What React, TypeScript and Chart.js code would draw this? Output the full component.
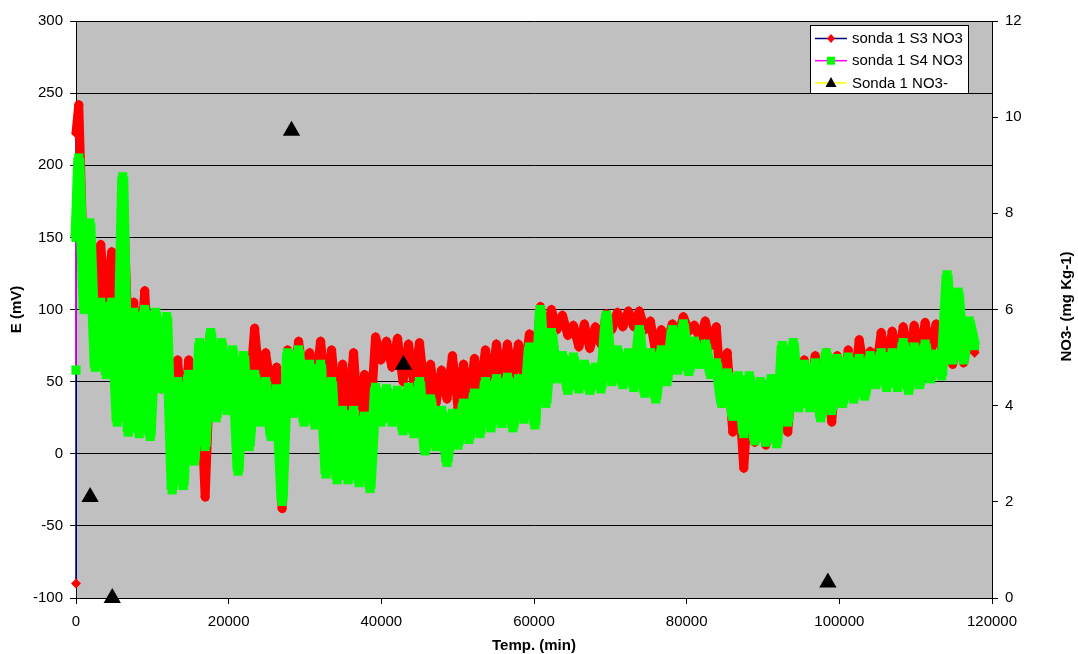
import { useEffect, useRef } from 'react';
import { Chart, registerables } from 'chart.js';

Chart.register(...registerables);

// ---------------- data ----------------
const S3_LABEL = 'sonda 1 S3 NO3';
const S4_LABEL = 'sonda 1 S4 NO3';
const NO3_LABEL = 'Sonda 1 NO3-';

const MINUTES_PER_DAY = 1440;

// readings at t = 0 before the daily cycles start
const s3StartValues = [-90, 222];
const s4StartValues = [58, 150];

// daily maximum / minimum of E (mV), one entry per day (day 0 .. 81)
const s3DailyMax = [
  242, 150, 145, 140, 186, 105, 113, 95, 90, 65,
  65, 60, 72, 72, 70, 65, 87, 70, 60, 72,
  78, 70, 78, 72, 62, 70, 55, 81, 78, 80,
  76, 77, 62, 58, 68, 62, 66, 72, 76, 76,
  76, 83, 102, 100, 96, 89, 90, 88, 97, 98,
  99, 99, 92, 86, 90, 95, 89, 92, 88, 70,
  50, 50, 50, 48, 50, 60, 65, 68, 70, 68,
  72, 79, 71, 84, 85, 88, 89, 91, 90, 85,
  90, 88,
];
const s3DailyMin = [
  110, 100, 95, 70, 80, 50, 45, 45, 20, 15,
  10, -30, 40, 40, 42, 40, 45, 45, -38, 45,
  50, 45, 40, 30, 25, 15, 20, 65, 60, 50,
  48, 40, 35, 38, 32, 36, 42, 46, 50, 52,
  54, 60, 80, 86, 82, 74, 73, 76, 86, 88,
  88, 86, 70, 76, 80, 85, 80, 75, 35, 15,
  -10, 8, 6, 8, 15, 34, 35, 30, 22, 35,
  40, 55, 55, 60, 62, 65, 68, 70, 72, 62,
  63, 70,
];
const s4DailyMax = [
  205, 160, 105, 105, 192, 98, 100, 98, 95, 50,
  55, 77, 84, 77, 72, 68, 55, 50, 45, 70,
  72, 62, 62, 50, 30, 30, 26, 46, 45, 44,
  46, 50, 38, 30, 28, 35, 42, 50, 52, 53,
  52, 74, 100, 84, 68, 67, 62, 60, 96, 72,
  70, 86, 70, 72, 86, 90, 78, 76, 63, 56,
  54, 54, 50, 52, 75, 77, 62, 63, 70, 66,
  67, 66, 68, 70, 70, 77, 74, 76, 69, 124,
  112, 92,
];
const s4DailyMin = [
  100, 60, 55, 22, 15, 14, 12, 45, -25, -22,
  -5, 5, 25, 30, -12, 5, 22, 12, -33, 28,
  22, 20, -14, -18, -18, -20, -24, 22, 22, 16,
  14, 2, 5, -6, 6, 10, 14, 18, 21, 18,
  24, 20, 35, 52, 44, 45, 44, 45, 50, 48,
  46, 42, 38, 50, 58, 57, 62, 55, 35, 26,
  14, 9, 8, 7, 22, 32, 32, 25, 30, 35,
  38, 40, 48, 46, 46, 44, 48, 52, 54, 65,
  65, 75,
];

// NO3- (mg Kg-1) samples
const no3Times = [1850, 4750, 28230, 42900, 98500];
const no3Values = [2.1, 0, 9.72, 4.85, 0.32];

// axis ticks
const xTicks = { min: 0, max: 120000, step: 20000 };
const yTicks = { min: -100, max: 300, step: 50 };
const y2Ticks = { min: 0, max: 12, step: 2 };

// ---------------- styles ----------------
const FONT = "'Liberation Sans', Arial, sans-serif";
const RED = '#FF0000';
const GREEN = '#00FF00';
const NAVY = '#000080';
const MAGENTA = '#FF00FF';
const YELLOW = '#FFFF00';
const PLOT_BG = '#C0C0C0';
const RED_WIDTH = 9;
const GREEN_WIDTH = 11;

function buildSeries(start: number[], maxes: number[], mins: number[]) {
  const pts: { x: number; y: number }[] = start.map((v) => ({ x: 0, y: v }));
  for (let d = 0; d < maxes.length; d++) {
    pts.push({ x: d * MINUTES_PER_DAY + MINUTES_PER_DAY / 4, y: maxes[d] });
    pts.push({ x: d * MINUTES_PER_DAY + (3 * MINUTES_PER_DAY) / 4, y: mins[d] });
  }
  return pts;
}

const chartDecor = {
  id: 'chartDecor',
  beforeDraw(chart: any) {
    const { ctx, chartArea: a } = chart;
    ctx.save();
    ctx.fillStyle = PLOT_BG;
    ctx.fillRect(a.left, a.top, a.right - a.left, a.bottom - a.top);
    ctx.restore();
  },
  afterDraw(chart: any) {
    const { ctx, chartArea: a } = chart;
    ctx.save();
    // axis titles
    ctx.fillStyle = '#000';
    ctx.font = `bold 15px ${FONT}`;
    ctx.textAlign = 'center';
    ctx.textBaseline = 'middle';
    ctx.fillText('Temp. (min)', (a.left + a.right) / 2, 646);
    ctx.save();
    ctx.translate(17, (a.top + a.bottom) / 2);
    ctx.rotate(-Math.PI / 2);
    ctx.fillText('E (mV)', 0, 0);
    ctx.restore();
    ctx.save();
    ctx.translate(1067, (a.top + a.bottom) / 2 - 3);
    ctx.rotate(-Math.PI / 2);
    ctx.fillText('NO3- (mg Kg-1)', 0, 0);
    ctx.restore();

    // legend
    const bx = 810.5, by = 25.5, bw = 158, bh = 68;
    ctx.fillStyle = '#FFFFFF';
    ctx.fillRect(bx, by, bw, bh);
    ctx.strokeStyle = '#000';
    ctx.lineWidth = 1;
    ctx.strokeRect(bx, by, bw, bh);
    const rows = [
      { label: S3_LABEL, line: NAVY, marker: 'diamond', color: RED },
      { label: S4_LABEL, line: MAGENTA, marker: 'square', color: GREEN },
      { label: NO3_LABEL, line: YELLOW, marker: 'triangle', color: '#000' },
    ];
    ctx.font = `15px ${FONT}`;
    ctx.textAlign = 'left';
    rows.forEach((r, i) => {
      const y = 38.5 + i * 22.2;
      ctx.strokeStyle = r.line;
      ctx.lineWidth = 1.5;
      ctx.beginPath();
      ctx.moveTo(815, y);
      ctx.lineTo(847, y);
      ctx.stroke();
      ctx.fillStyle = r.color;
      ctx.beginPath();
      const cx = 831;
      if (r.marker === 'diamond') {
        ctx.moveTo(cx, y - 4.5);
        ctx.lineTo(cx + 4, y);
        ctx.lineTo(cx, y + 4.5);
        ctx.lineTo(cx - 4, y);
        ctx.closePath();
        ctx.fill();
      } else if (r.marker === 'square') {
        ctx.fillRect(cx - 4, y - 4, 8, 8);
      } else {
        ctx.moveTo(cx, y - 6);
        ctx.lineTo(cx + 5.5, y + 4);
        ctx.lineTo(cx - 5.5, y + 4);
        ctx.closePath();
        ctx.fill();
      }
      ctx.fillStyle = '#000';
      ctx.fillText(r.label, 852, y + 0.5);
    });
    ctx.restore();
  },
};

export default function App() {
  const canvasRef = useRef<HTMLCanvasElement | null>(null);

  useEffect(() => {
    const canvas = canvasRef.current;
    if (!canvas) return;
    const s3 = buildSeries(s3StartValues, s3DailyMax, s3DailyMin);
    const s4 = buildSeries(s4StartValues, s4DailyMax, s4DailyMin);
    const no3 = no3Times.map((t, i) => ({ x: t, y: no3Values[i] }));

    const tickFont = { family: FONT, size: 15 };

    const chart = new Chart(canvas, {
      type: 'line',
      data: {
        datasets: [
          {
            label: NO3_LABEL,
            data: no3,
            yAxisID: 'y2',
            showLine: false,
            borderColor: YELLOW,
            backgroundColor: '#000',
            pointStyle: 'triangle',
            pointRadius: 10,
            pointBorderColor: '#000',
            pointBorderWidth: 0,
            clip: false as any,
          },
          {
            label: S4_LABEL,
            data: s4,
            yAxisID: 'y',
            borderColor: GREEN,
            borderWidth: GREEN_WIDTH,
            borderJoinStyle: 'bevel',
            backgroundColor: GREEN,
            pointStyle: 'rect',
            pointRadius: 6.5,
            pointBorderWidth: 0,
            pointBackgroundColor: GREEN,
            segment: {
              borderColor: (c: any) => (c.p0DataIndex === 0 ? MAGENTA : GREEN),
              borderWidth: (c: any) => (c.p0DataIndex === 0 ? 1.5 : GREEN_WIDTH),
            },
            clip: false as any,
          },
          {
            label: S3_LABEL,
            data: s3,
            yAxisID: 'y',
            borderColor: RED,
            borderWidth: RED_WIDTH,
            borderJoinStyle: 'round',
            backgroundColor: RED,
            pointStyle: 'rectRot',
            pointRadius: 5,
            pointBorderWidth: 0,
            pointBackgroundColor: RED,
            segment: {
              borderColor: (c: any) => (c.p0DataIndex === 0 ? NAVY : RED),
              borderWidth: (c: any) => (c.p0DataIndex === 0 ? 1.5 : RED_WIDTH),
            },
            clip: false as any,
          },
        ],
      },
      options: {
        responsive: false,
        animation: false,
        events: [],
        layout: { padding: { top: 21, left: 0, right: 0, bottom: 0 } },
        plugins: {
          legend: { display: false },
          tooltip: { enabled: false },
        },
        elements: { line: { tension: 0 } },
        scales: {
          x: {
            type: 'linear',
            min: xTicks.min,
            max: xTicks.max,
            afterFit: (s: any) => {
              s.height = 56;
            },
            ticks: {
              stepSize: xTicks.step,
              color: '#000',
              font: tickFont,
              padding: 9,
              maxRotation: 0,
              callback: (v: any) => String(v),
            },
            grid: {
              drawOnChartArea: false,
              drawTicks: true,
              tickLength: 6,
              tickColor: '#000',
              color: '#000',
            },
            border: { display: true, color: '#000', width: 1 },
          },
          y: {
            type: 'linear',
            position: 'left',
            min: yTicks.min,
            max: yTicks.max,
            afterFit: (s: any) => {
              s.width = 76;
            },
            ticks: {
              stepSize: yTicks.step,
              color: '#000',
              font: tickFont,
              padding: 7,
            },
            grid: {
              color: '#000',
              lineWidth: 1,
              drawTicks: true,
              tickLength: 6,
              tickColor: '#000',
            },
            border: { display: true, color: '#000', width: 1 },
          },
          y2: {
            type: 'linear',
            position: 'right',
            min: y2Ticks.min,
            max: y2Ticks.max,
            afterFit: (s: any) => {
              s.width = 86;
            },
            ticks: {
              stepSize: y2Ticks.step,
              color: '#000',
              font: tickFont,
              padding: 7,
            },
            grid: {
              drawOnChartArea: false,
              drawTicks: true,
              tickLength: 6,
              tickColor: '#000',
              color: '#000',
            },
            border: { display: true, color: '#000', width: 1 },
          },
        },
      } as any,
      plugins: [chartDecor],
    });

    return () => {
      chart.destroy();
    };
  }, []);

  return (
    <div style={{ position: 'fixed', left: 0, top: 0, width: 1078, height: 654, background: '#fff' }}>
      <canvas ref={canvasRef} width={1078} height={654} style={{ width: 1078, height: 654, display: 'block' }} />
    </div>
  );
}
